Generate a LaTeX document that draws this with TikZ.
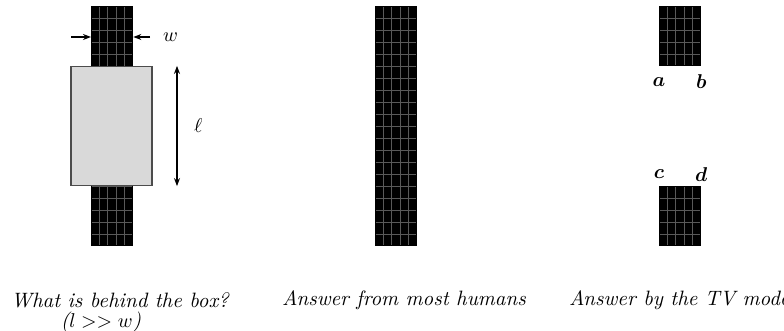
\documentclass[tikz,border=0pt]{standalone}
\usepackage{amsmath}
\usepackage{tikz}
\usetikzlibrary{arrows.meta, positioning}
\tikzset{
    boxfig/.style={x=0.5pt, y=0.5pt, >={Stealth[length=4pt, width=3pt]}, font=\itshape},
    bar/.style={fill=black, inner sep=0pt, minimum width=20.75pt},
    gridline/.style={draw=gray!70!black, line width=0.35pt},
    cover/.style={draw=black!70, fill=black!15, line width=0.6pt, inner sep=0pt,
        minimum width=40.5pt, minimum height=59.5pt},
    dimline/.style={line width=0.6pt},
    corner/.style={font=\bfseries\itshape},
    caption/.style={font=\fontsize{10.4pt}{13pt}\selectfont\itshape},
}
\begin{document}
\begin{tikzpicture}[boxfig]
    \useasboundingbox (0,0) rectangle (784,331);

    % the bars, with their grid
    \node[bar, minimum height=120pt, anchor=south west] (bar1) at (91,85) {};
    \node[bar, minimum height=120pt, anchor=south west] (bar2) at (375,85) {};
    \node[bar, minimum height=30pt, anchor=south west] (bar3) at (659,265) {};
    \node[bar, minimum height=30pt, anchor=south west] (bar4) at (659,85) {};
    \foreach \b/\h in {bar1/240, bar2/240, bar3/60, bar4/60}
        \draw[gridline, shift={(\b.south west)}] (1,1) grid[xstep=8.3, ystep=12] (40.5,\h-1);

    % the question: a bar partly hidden by a box
    \node[cover] (box) at (111.5,205) {};
    \coordinate (wl) at (71,294);
    \coordinate (wr) at (150,294);
    \draw[->, dimline] (wl) -- (wl -| bar1.west);
    \draw[->, dimline] (wr) -- (wr -| bar1.east);
    \node[right=3pt of wr] (wlab) {$w$};
    \coordinate (lx) at (177,205);
    \draw[<->, dimline] (lx |- box.north) -- (lx |- box.south);
    \node[right=5pt of lx] (llab) {$\ell$};

    % what the TV model answers
    \node[corner] (a) at ([yshift=-8pt]bar3.south west) {$\boldsymbol{a}$};
    \node[corner] (b) at ([yshift=-8pt]bar3.south east) {$\boldsymbol{b}$};
    \node[corner] (c) at ([yshift=5.5pt]bar4.north west) {$\boldsymbol{c}$};
    \node[corner] (d) at ([yshift=5.5pt]bar4.north east) {$\boldsymbol{d}$};

    % captions
    \node[caption] (cap1) at (120,31) {What is behind the box?};
    \node[caption] (cap1b) at (101,9) {($l >> w$)};
    \node[caption] (cap2) at (404,31) {Answer from most humans};
    \node[caption, anchor=west] (cap3) at (562,31) {Answer by the TV model};
\end{tikzpicture}
\end{document}
